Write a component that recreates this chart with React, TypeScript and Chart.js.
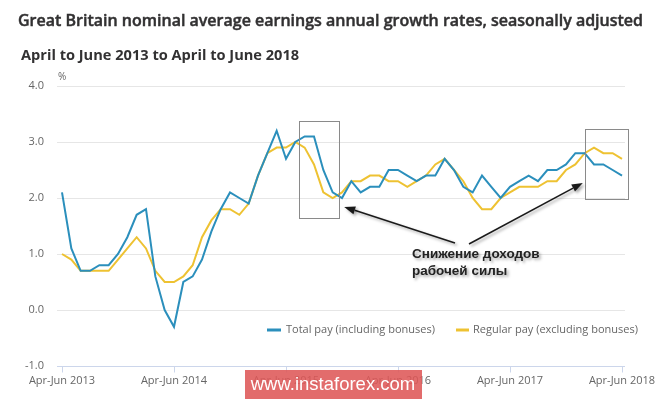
import React, { useEffect, useRef } from "react";
import { Chart, registerables } from "chart.js";

Chart.register(...registerables);

const MONTHS = ["Jan", "Feb", "Mar", "Apr", "May", "Jun", "Jul", "Aug", "Sep", "Oct", "Nov", "Dec"];

// 61 rolling three-month periods, Apr-Jun 2013 ... Apr-Jun 2018
const periods: string[] = Array.from({ length: 61 }, (_, i) => {
  const s = (3 + i) % 12;
  const e = (5 + i) % 12;
  const endYear = 2013 + Math.floor((5 + i) / 12);
  return `${MONTHS[s]}-${MONTHS[e]} ${endYear}`;
});

const totalPay = [
  2.1, 1.1, 0.7, 0.7, 0.8, 0.8, 1.0, 1.3, 1.7, 1.8, 0.6, 0.0,
  -0.3, 0.5, 0.6, 0.9, 1.4, 1.8, 2.1, 2.0, 1.9, 2.4, 2.8, 3.2,
  2.7, 3.0, 3.1, 3.1, 2.5, 2.1, 2.0, 2.3, 2.1, 2.2, 2.2, 2.5,
  2.5, 2.4, 2.3, 2.4, 2.4, 2.7, 2.5, 2.2, 2.1, 2.4, 2.2, 2.0,
  2.2, 2.3, 2.4, 2.3, 2.5, 2.5, 2.6, 2.8, 2.8, 2.6, 2.6, 2.5,
  2.4,
];

const regularPay = [
  1.0, 0.9, 0.7, 0.7, 0.7, 0.7, 0.9, 1.1, 1.3, 1.1, 0.7, 0.5,
  0.5, 0.6, 0.8, 1.3, 1.6, 1.8, 1.8, 1.7, 1.9, 2.4, 2.8, 2.9,
  2.9, 3.0, 2.9, 2.6, 2.1, 2.0, 2.1, 2.3, 2.3, 2.4, 2.4, 2.3,
  2.3, 2.2, 2.3, 2.4, 2.6, 2.7, 2.5, 2.3, 2.0, 1.8, 1.8, 2.0,
  2.1, 2.2, 2.2, 2.2, 2.3, 2.3, 2.5, 2.6, 2.8, 2.9, 2.8, 2.8,
  2.7,
];

const yTicks = [-1, 0, 1, 2, 3, 4];
const xTickEvery = 12;

const TITLE = "Great Britain nominal average earnings annual growth rates, seasonally adjusted";
const SUBTITLE = "April to June 2013 to April to June 2018";
const SERIES_NAMES = ["Total pay (including bonuses)", "Regular pay (excluding bonuses)"];
const NOTE_LINES = ["Снижение доходов", "рабочей силы"];
const WATERMARK = "www.instaforex.com";

// annotation boxes in data space: [xIndexFrom, xIndexTo, yTop, yBottom]
const boxes = [
  [25.4, 29.7, 3.37, 1.64],
  [56.0, 60.6, 3.23, 1.98],
];

const BLUE = "#2b8fbc";
const YELLOW = "#eec232";
const FONT = '"Open Sans", "DejaVu Sans", sans-serif';

const overlay = {
  id: "overlay",
  beforeDatasetsDraw(chart: any) {
    const { ctx, scales } = chart;
    const xs = scales.x;
    const ys = scales.y;
    const left = xs.left - 5;
    const right = xs.right + 3;
    ctx.save();
    yTicks.forEach((v) => {
      const y = Math.round(ys.getPixelForValue(v)) + 0.5;
      ctx.strokeStyle = v === -1 ? "#ccd6eb" : "#e6e6e6";
      ctx.lineWidth = 1;
      ctx.beginPath();
      ctx.moveTo(left, y);
      ctx.lineTo(right, y);
      ctx.stroke();
    });
    const yb = Math.round(ys.getPixelForValue(-1)) + 0.5;
    ctx.strokeStyle = "#ccd6eb";
    for (let i = 0; i < periods.length; i += xTickEvery) {
      const x = Math.round(xs.getPixelForValue(i)) + 0.5;
      ctx.beginPath();
      ctx.moveTo(x, yb);
      ctx.lineTo(x, yb + 6);
      ctx.stroke();
    }
    // % unit
    ctx.fillStyle = "#666";
    ctx.font = `10px ${FONT}`;
    ctx.textBaseline = "alphabetic";
    ctx.textAlign = "left";
    ctx.fillText("%", 58, 80);
    ctx.restore();
  },
  afterDatasetsDraw(chart: any) {
    const { ctx, scales } = chart;
    const xs = scales.x;
    const ys = scales.y;
    ctx.save();

    // titles
    ctx.textAlign = "left";
    ctx.textBaseline = "alphabetic";
    ctx.fillStyle = "#323132";
    ctx.strokeStyle = "#323132";
    ctx.lineWidth = 0.45;
    ctx.font = `600 16px ${FONT}`;
    ctx.fillText(TITLE, 18, 26);
    ctx.strokeText(TITLE, 18, 26);
    ctx.font = `bold 14.6px ${FONT}`;
    ctx.fillText(SUBTITLE, 21, 60);

    // legend
    const ly = 330;
    ctx.font = `11px ${FONT}`;
    ctx.textBaseline = "middle";
    ctx.lineWidth = 3;
    ctx.strokeStyle = BLUE;
    ctx.beginPath();
    ctx.moveTo(267, ly);
    ctx.lineTo(281, ly);
    ctx.stroke();
    ctx.fillStyle = "#666";
    ctx.fillText(SERIES_NAMES[0], 286, ly);
    ctx.strokeStyle = YELLOW;
    ctx.beginPath();
    ctx.moveTo(456, ly);
    ctx.lineTo(469, ly);
    ctx.stroke();
    ctx.fillText(SERIES_NAMES[1], 473, ly);

    // boxes
    ctx.strokeStyle = "#8a8a8a";
    ctx.lineWidth = 1;
    boxes.forEach(([x0, x1, yt, ybm]) => {
      const px0 = Math.round(xs.getPixelForValue(x0)) + 0.5;
      const px1 = Math.round(xs.getPixelForValue(x1)) + 0.5;
      const py0 = Math.round(ys.getPixelForValue(yt)) + 0.5;
      const py1 = Math.round(ys.getPixelForValue(ybm)) + 0.5;
      ctx.strokeRect(px0, py0, px1 - px0, py1 - py0);
    });

    // arrows
    const arrow = (x1: number, y1: number, x2: number, y2: number) => {
      const ang = Math.atan2(y2 - y1, x2 - x1);
      const len = 11;
      const w = 4;
      const bx = x2 - len * Math.cos(ang);
      const by = y2 - len * Math.sin(ang);
      ctx.beginPath();
      ctx.moveTo(x1, y1);
      ctx.lineTo(bx, by);
      ctx.stroke();
      ctx.beginPath();
      ctx.moveTo(x2, y2);
      ctx.lineTo(bx + w * Math.sin(ang), by - w * Math.cos(ang));
      ctx.lineTo(bx - w * Math.sin(ang), by + w * Math.cos(ang));
      ctx.closePath();
      ctx.fill();
    };
    ctx.save();
    ctx.shadowColor = "rgba(0,0,0,0.35)";
    ctx.shadowBlur = 3;
    ctx.shadowOffsetX = 2;
    ctx.shadowOffsetY = 2;
    ctx.strokeStyle = "#1a1a1a";
    ctx.fillStyle = "#1a1a1a";
    ctx.lineWidth = 1.6;
    const a1 = [xs.getPixelForValue(25.4 + 4.3) + 5, ys.getPixelForValue(1.84)];
    const a2 = [xs.getPixelForValue(55.8), ys.getPixelForValue(2.27)];
    arrow(455, 243, a1[0], a1[1]);
    arrow(469, 244, a2[0], a2[1]);

    ctx.font = 'bold 13.5px "Liberation Sans", Arial, sans-serif';
    ctx.textBaseline = "middle";
    ctx.fillStyle = "#222";
    ctx.fillText(NOTE_LINES[0], 412, 254);
    ctx.fillText(NOTE_LINES[1], 412, 271);
    ctx.restore();

    // watermark
    ctx.fillStyle = "rgba(222,88,88,0.88)";
    ctx.fillRect(245, 370, 177, 29);
    ctx.fillStyle = "#ffffff";
    ctx.font = '18.5px "Liberation Sans", Arial, sans-serif';
    ctx.textAlign = "center";
    ctx.textBaseline = "middle";
    ctx.fillText(WATERMARK, 333, 385);

    ctx.restore();
  },
};

export default function App() {
  const ref = useRef<HTMLCanvasElement | null>(null);
  useEffect(() => {
    if (!ref.current) return;
    const chart = new Chart(ref.current, {
      type: "line",
      data: {
        labels: periods,
        datasets: [
          {
            label: SERIES_NAMES[0],
            data: totalPay,
            borderColor: BLUE,
            backgroundColor: BLUE,
            borderWidth: 2,
            pointRadius: 0,
            tension: 0,
          },
          {
            label: SERIES_NAMES[1],
            data: regularPay,
            borderColor: YELLOW,
            backgroundColor: YELLOW,
            borderWidth: 2,
            pointRadius: 0,
            tension: 0,
          },
        ],
      },
      options: {
        responsive: false,
        animation: false,
        layout: { padding: { left: 22, right: 43, top: 86, bottom: 5 } },
        plugins: {
          legend: { display: false },
          title: { display: false },
          tooltip: { enabled: false },
        },
        scales: {
          x: {
            type: "category",
            offset: false,
            grid: { display: false, drawTicks: false },
            border: { display: false },
            afterFit: (s: any) => {
              s.height = 30;
            },
            ticks: {
              autoSkip: false,
              maxRotation: 0,
              padding: 8,
              color: "#666",
              font: { family: FONT, size: 11 },
              callback: (_v: any, i: number) => (i % xTickEvery === 0 ? periods[i] : ""),
            },
          },
          y: {
            min: -1,
            max: 4,
            grid: { display: false, drawTicks: false },
            border: { display: false },
            afterFit: (s: any) => {
              s.width = 40;
            },
            ticks: {
              stepSize: 1,
              padding: 18,
              color: "#666",
              font: { family: FONT, size: 11 },
              callback: (v: any) => Number(v).toFixed(1),
            },
          },
        },
      },
      plugins: [overlay],
    });
    return () => chart.destroy();
  }, []);
  return (
    <div style={{ position: "absolute", left: 0, top: 0, width: 665, height: 401, background: "#fff" }}>
      <canvas ref={ref} width={665} height={401} />
    </div>
  );
}
